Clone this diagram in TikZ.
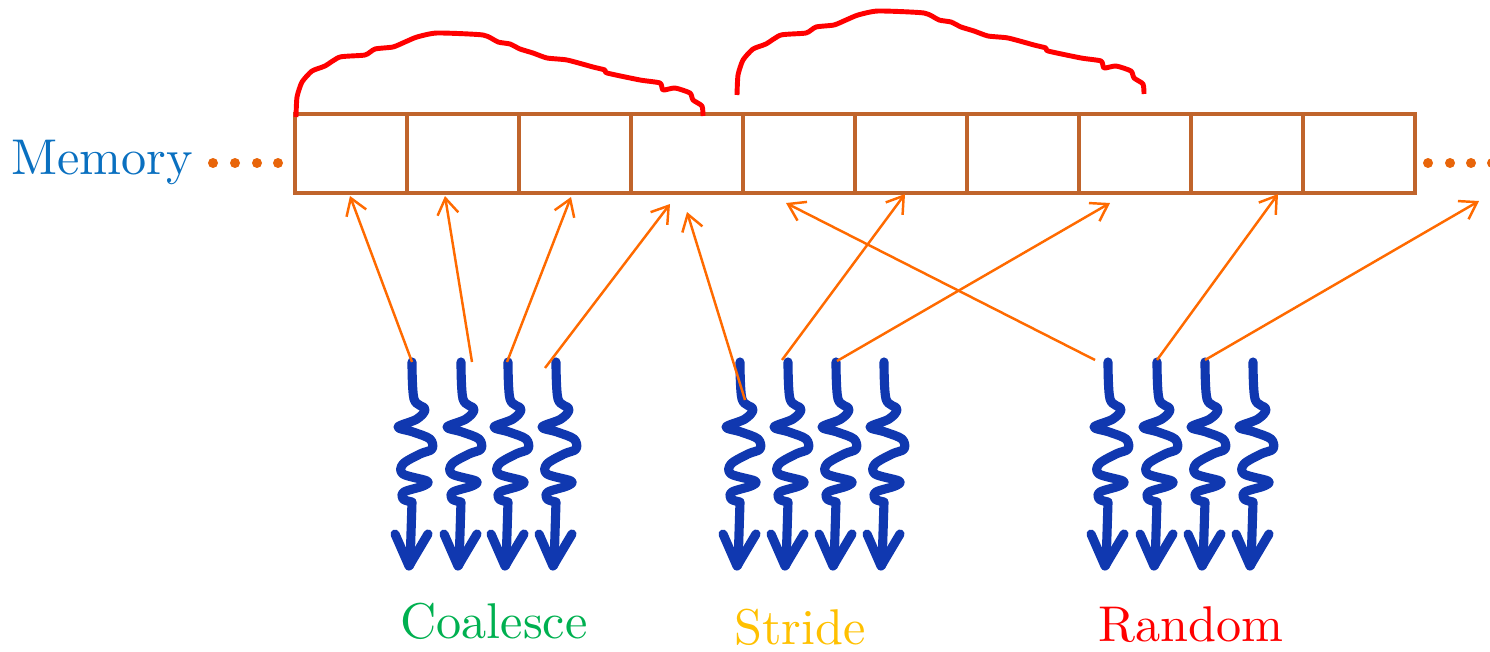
\documentclass[tikz,border=0pt]{standalone}
\usetikzlibrary{arrows.meta}
\definecolor{cellbrown}{HTML}{C0642B}
\definecolor{memblue}{HTML}{0A70C0}
\definecolor{dotorange}{HTML}{E8650A}
\definecolor{linkorange}{HTML}{FF6A00}
\definecolor{threadblue}{HTML}{1038B0}
\definecolor{coalgreen}{HTML}{00B050}
\definecolor{strideyellow}{HTML}{FFC000}
\definecolor{randred}{HTML}{FF0000}
% text set at 10pt and enlarged, which keeps the heavier strokes of the 10pt design
\newcommand{\bigword}[1]{\scalebox{2.86}{\fontsize{10}{12}\selectfont #1}}
\tikzset{
  cell/.style={draw=cellbrown, line width=2.6pt, minimum width=2.24cm, minimum height=1.58cm, inner sep=0pt},
  dotmark/.style={circle, fill=dotorange, minimum size=0.2cm, inner sep=0pt},
  label/.style={inner sep=0pt},
  link/.style={draw=linkorange, line width=1.4pt, -{Straight Barb[length=3.2mm,width=4.2mm]}},
  span/.style={draw=randred, line width=2.8pt, line join=round, line cap=butt},
  thread/.pic={
    \draw[threadblue, line width=5.2pt, line cap=round, line join=round]
      plot[smooth, tension=0.55] coordinates {(0,0) (2,37) (13,47) (5,57) (-14,65) (1,70) (18,77) (20,87) (8,92) (-9,102) (-9,112) (15,119) (11,124) (-8,130) (-9,137) (0,140)}
      -- (-2,203);
    \draw[threadblue, line width=5.2pt, line cap=round, line join=round]
      (-17,172) -- (-3,204) -- (16,172);
  }
}
\begin{document}
\begin{tikzpicture}[x=0.02cm, y=-0.02cm]
\useasboundingbox (0,0) rectangle (1490,652);

% memory cells
\foreach \i in {1,...,10} {
  \node[cell] (c\i) at ({295+112*(\i-1)+56},153.5) {};
}

% memory label and dots
\node[label, text=memblue, anchor=base east] (mem) at (193,174) {\bigword{Memory}};
\foreach \x [count=\k] in {213,235,257,278} {
  \node[dotmark] (dl\k) at (\x,163) {};
}
\foreach \x [count=\k] in {1428,1450,1471,1492} {
  \node[dotmark] (dr\k) at (\x,163) {};
}

% spans above the cells
\def\spanpath{plot[smooth, tension=0.35] coordinates {(296,117) (297,97) (302,82) (312,71) (325,66) (340,57) (365,55) (375,49) (393,47) (405,42) (417,37) (437,33) (483,35) (498,42) (510,44) (520,49) (533,53) (547,58) (567,60) (593,67) (605,70) (607,73) (640,80) (660,83) (663,90) (675,88) (690,93) (693,100) (702,106) (703,116)}}
\draw[span] \spanpath;
\begin{scope}[shift={(441,-22)}]
  \draw[span] \spanpath;
\end{scope}

% threads
\foreach \x [count=\k] in {412,461,508,556, 740,788,836,884, 1108,1157,1205,1253} {
  \pic at (\x,362) {thread};
  \coordinate (t\k) at (\x,362);
}

% access targets on the memory row
\coordinate (a1) at (350,196);
\coordinate (a2) at (445,196);
\coordinate (a3) at (571,197);
\coordinate (a4) at (670,204);
\coordinate (a5) at (687,212);
\coordinate (a6) at (905,194);
\coordinate (a7) at (1110,203);
\coordinate (a8) at (786,203);
\coordinate (a9) at (1278,194);
\coordinate (a10) at (1479,201);

% thread starting points of the links
\coordinate (s1) at (412,362);
\coordinate (s2) at (472,362);
\coordinate (s3) at (507,362);
\coordinate (s4) at (545,368);
\coordinate (s5) at (745,400);
\coordinate (s6) at (782,360);
\coordinate (s7) at (837,361);
\coordinate (s8) at (1095,360);
\coordinate (s9) at (1157,360);
\coordinate (s10) at (1205,360);

\foreach \k in {1,...,10} {
  \draw[link] (s\k) -- (a\k);
}

% pattern names
\node[label, text=coalgreen, anchor=base] (coal) at (494,638) {\bigword{Coalesce}};
\node[label, text=strideyellow, anchor=base] (stride) at (800,644) {\bigword{Stride}};
\node[label, text=randred, anchor=base] (rand) at (1191,641) {\bigword{Random}};
\end{tikzpicture}
\end{document}
